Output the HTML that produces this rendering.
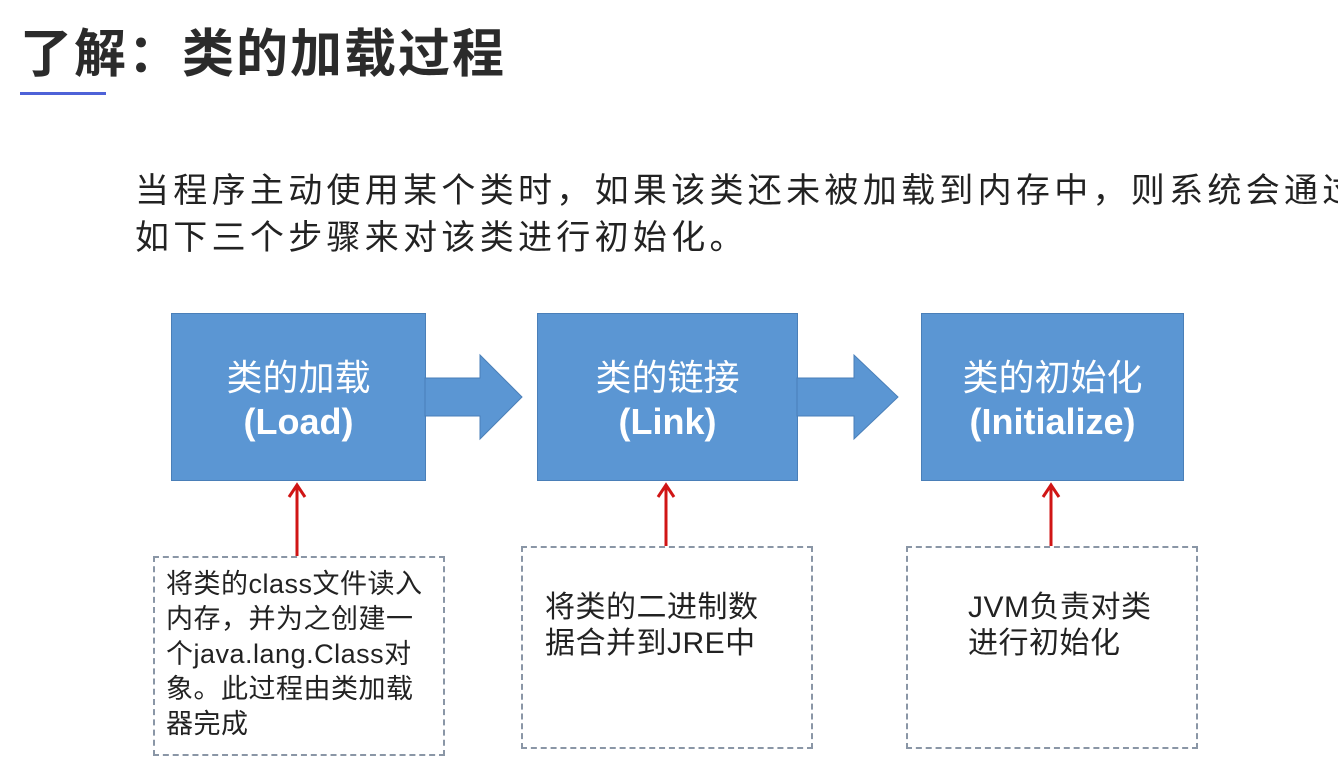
<!DOCTYPE html>
<html><head><meta charset="utf-8"><style>
body{margin:0;width:1338px;height:758px;background:#fff;position:relative;overflow:hidden;font-family:"Liberation Sans","Noto Sans CJK SC",sans-serif}
.a{position:absolute;white-space:nowrap}
.box{position:absolute;background:#5b96d3;border:1px solid #4a7fb8;color:#fff;text-align:center;font-size:36px;line-height:44px;box-sizing:border-box}
.box div{position:absolute;left:0;right:0}
.d{position:absolute;border:2px dashed #8a96a6;box-sizing:border-box}
.t{position:absolute;color:#222;white-space:nowrap}
</style></head><body>
<div class="a" style="left:20px;top:12px;font-size:52px;font-weight:bold;color:#2b2b2b;letter-spacing:2px">了解：类的加载过程</div>
<div class="a" style="left:20px;top:92px;width:86px;height:3px;background:#4e62d8"></div>
<div class="a" style="left:135px;top:168px;font-size:34px;line-height:47px;letter-spacing:4.3px;color:#222">当程序主动使用某个类时，如果该类还未被加载到内存中，则系统会通过<br>如下三个步骤来对该类进行初始化。</div>

<div class="box" style="left:171px;top:313px;width:255px;height:168px"><div style="top:42px">类的加载</div><div style="top:86px;font-weight:bold">(Load)</div></div>
<div class="box" style="left:537px;top:313px;width:261px;height:168px"><div style="top:42px">类的链接</div><div style="top:86px;font-weight:bold">(Link)</div></div>
<div class="box" style="left:921px;top:313px;width:263px;height:168px"><div style="top:42px">类的初始化</div><div style="top:86px;font-weight:bold">(Initialize)</div></div>

<svg class="a" style="left:0;top:0" width="1338" height="758">
<polygon points="425,378 480,378 480,355 522,397 480,439 480,416 425,416" fill="#5b96d3" stroke="#4a7fb8"/>
<polygon points="797,378 854,378 854,355 898,397 854,439 854,416 797,416" fill="#5b96d3" stroke="#4a7fb8"/>
<g stroke="#d01515" stroke-width="3" fill="none">
<line x1="297" y1="556" x2="297" y2="486"/><polyline points="289,497 297,485 305,497"/>
<line x1="666" y1="546" x2="666" y2="486"/><polyline points="658,497 666,485 674,497"/>
<line x1="1051" y1="546" x2="1051" y2="486"/><polyline points="1043,497 1051,485 1059,497"/>
</g>
</svg>

<div class="d" style="left:153px;top:556px;width:292px;height:200px"></div>
<div class="d" style="left:521px;top:546px;width:292px;height:203px"></div>
<div class="d" style="left:906px;top:546px;width:292px;height:203px"></div>

<div class="t" style="left:166px;top:567px;font-size:27px;line-height:35px;letter-spacing:0.5px">将类的class文件读入<br>内存，并为之创建一<br>个java.lang.Class对<br>象。此过程由类加载<br>器完成</div>
<div class="t" style="left:545px;top:590px;font-size:30px;line-height:36px;letter-spacing:0.5px">将类的二进制数<br>据合并到JRE中</div>
<div class="t" style="left:968px;top:590px;font-size:30px;line-height:36px;letter-spacing:0.5px">JVM负责对类<br>进行初始化</div>
</body></html>
